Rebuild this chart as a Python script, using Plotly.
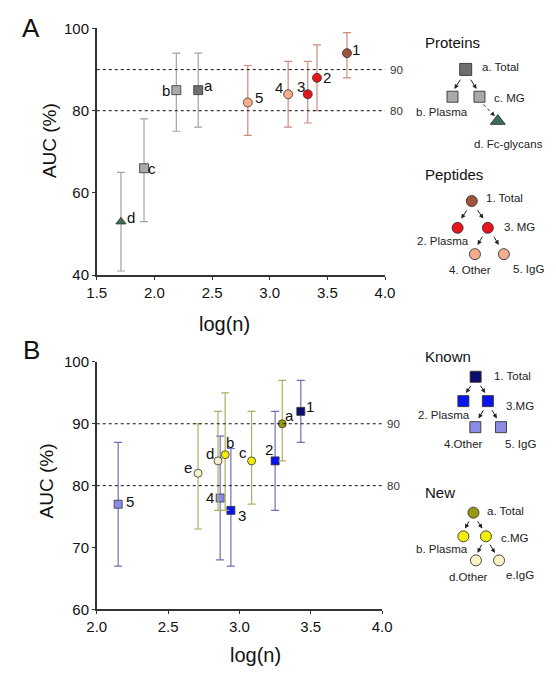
import plotly.graph_objects as go

# ---------------- DATA ----------------
# Panel A: proteins
prot_labels = ["a", "b", "c", "d"]
prot_logn = [2.38, 2.19, 1.91, 1.71]
prot_auc = [85, 85, 66, 53]
prot_lo = [76, 75, 53, 41]
prot_hi = [94, 94, 78, 65]

# Panel A: peptides
pep_labels = ["1", "2", "3", "4", "5"]
pep_logn = [3.67, 3.41, 3.33, 3.16, 2.81]
pep_auc = [94, 88, 84, 84, 82]
pep_lo = [88, 80, 77, 76, 74]
pep_hi = [99, 96, 92, 92, 91]

# Panel B: known
known_labels = ["1", "2", "3", "4", "5"]
known_logn = [3.43, 3.25, 2.94, 2.865, 2.15]
known_auc = [92, 84, 76, 78, 77]
known_lo = [87, 76, 67, 68, 67]
known_hi = [97, 92, 86, 88, 87]

# Panel B: new
new_labels = ["a", "b", "c", "d", "e"]
new_logn = [3.30, 2.90, 3.085, 2.85, 2.71]
new_auc = [90, 85, 84, 84, 82]
new_lo = [84, 76, 77, 76, 73]
new_hi = [97, 95, 92, 92, 90]

ref_lines = [80, 90]
xticks_A = [1.5, 2.0, 2.5, 3.0, 3.5, 4.0]
yticks_A = [40, 60, 80, 100]
xticks_B = [2.0, 2.5, 3.0, 3.5, 4.0]
yticks_B = [60, 70, 80, 90, 100]

# ---------------- STYLE ----------------
FONT = "Liberation Sans, Arial, sans-serif"
W, H = 556, 673

prot_colors = ["#6e6e6e", "#a9a9a9", "#a9a9a9", "#3c6e55"]
prot_symbols = ["square", "square", "square", "triangle-up"]
pep_colors = ["#a0523a", "#e8131b", "#e8131b", "#f6ad8c", "#f6ad8c"]
known_colors = ["#0c0c6e", "#0a14f0", "#0a14f0", "#8c8ce8", "#8c8ce8"]
new_colors = ["#9a9a12", "#f2ee0a", "#f2ee0a", "#f6f4c4", "#f6f4c4"]

# label offsets in pixels (dx right, dy down)
prot_off = [(10, -5), (-10, 0), (8, 0), (10, -4)]
pep_off = [(9, -4), (10, 0), (-7, -8), (-9, -7), (11, -5)]
known_off = [(9, -5), (-6, -11), (11, 5), (-10, -1), (12, -3)]
new_off = [(7, -8), (5, -12), (-9, -8), (-8, -7), (-10, -6)]


def err(vals, lo, hi):
    return dict(type="data", symmetric=False,
                array=[h - v for v, h in zip(vals, hi)],
                arrayminus=[v - l for v, l in zip(vals, lo)])


fig = go.Figure()
annotations = []
shapes = []


def add_group(x, y, lo, hi, labels, colors, symbols, offs, ecolor, size, xa, ya):
    e = err(y, lo, hi)
    e.update(color=ecolor, thickness=1.2, width=4)
    fig.add_trace(go.Scatter(
        x=x, y=y, mode="markers",
        marker=dict(color=colors, symbol=symbols, size=size,
                    line=dict(color="#333", width=0.8)),
        error_y=e, xaxis=xa, yaxis=ya, showlegend=False, cliponaxis=False))
    for xi, yi, lab, (dx, dy) in zip(x, y, labels, offs):
        annotations.append(dict(x=xi, y=yi, xref=xa, yref=ya, text=lab, showarrow=False,
                                xshift=dx, yshift=-dy, xanchor="center", yanchor="middle",
                                font=dict(family=FONT, size=15, color="#111")))


add_group(prot_logn, prot_auc, prot_lo, prot_hi, prot_labels, prot_colors,
          prot_symbols, prot_off, "#a3a3a3", 9, "x", "y")
add_group(pep_logn, pep_auc, pep_lo, pep_hi, pep_labels, pep_colors,
          "circle", pep_off, "#d08a7c", 9, "x", "y")
add_group(known_logn, known_auc, known_lo, known_hi, known_labels, known_colors,
          "square", known_off, "#6f6fb5", 8, "x2", "y2")
add_group(new_logn, new_auc, new_lo, new_hi, new_labels, new_colors,
          "circle", new_off, "#aeae62", 8, "x2", "y2")

# ---------------- legend schematics (overlay pixel axis) ----------------


def node(x, y, color, symbol, size):
    fig.add_trace(go.Scatter(
        x=[x], y=[y], mode="markers", xaxis="x3", yaxis="y3", showlegend=False,
        hoverinfo="skip", cliponaxis=False,
        marker=dict(color=color, symbol=symbol, size=size,
                    line=dict(color="#333", width=0.9))))


def txt(x, y, s, size=11.5, anchor="left", color="#222"):
    annotations.append(dict(x=x, y=y, xref="x3", yref="y3", text=s, showarrow=False,
                            xanchor=anchor, yanchor="middle",
                            font=dict(family=FONT, size=size, color=color)))


def arrow(x0, y0, x1, y1):
    annotations.append(dict(x=x1, y=y1, ax=x0, ay=y0, xref="x3", yref="y3",
                            axref="x3", ayref="y3", text="", showarrow=True,
                            arrowhead=2, arrowsize=0.9, arrowwidth=1, arrowcolor="#222"))


# Proteins
txt(428, 34, "Proteins", 15, color="#111")
node(472.7, 62, "#6e6e6e", "square", 12)
txt(488, 60, "a. Total")
node(459, 90, "#a9a9a9", "square", 11)
node(487, 90, "#a9a9a9", "square", 11)
txt(500, 91, "c. MG")
txt(448, 106, "b. Plasma", anchor="center")
node(506, 115, "#3c6e55", "triangle-up", 13)
txt(517, 138, "d. Fc-glycans", anchor="center")
arrow(468, 71, 461, 82)
arrow(477, 71, 484, 82)
shapes.append(dict(type="line", xref="x3", yref="y3", x0=491, y0=98, x1=501, y1=108,
                   line=dict(color="#222", width=1, dash="dot")))
arrow(500, 107, 503, 110)

# Peptides
txt(428, 170, "Peptides", 15, color="#111")
node(479, 197, "#a0523a", "circle", 11)
txt(492, 194, "1. Total")
node(464.3, 224.5, "#e8131b", "circle", 11)
node(495.7, 224.5, "#e8131b", "circle", 11)
txt(510, 224, "3. MG")
txt(449, 238, "2. Plasma", anchor="center")
node(482.3, 251.5, "#f6ad8c", "circle", 11)
node(512.3, 251.5, "#f6ad8c", "circle", 11)
txt(477, 268, "4. Other", anchor="center")
txt(520, 267, "5. IgG")
arrow(475, 205, 468, 215)
arrow(484, 205, 491, 215)
arrow(491, 232, 485, 242)
arrow(501, 232, 507, 242)

# Known
txt(428, 356, "Known", 15, color="#111")
node(483, 377.3, "#0c0c6e", "square", 11)
txt(500, 376, "1. Total")
node(470.3, 402.3, "#0a14f0", "square", 11)
node(495.7, 402.3, "#0a14f0", "square", 11)
txt(512, 407, "3.MG")
txt(450, 417, "2. Plasma", anchor="center")
node(482.7, 429, "#8c8ce8", "square", 11)
node(509.3, 429, "#8c8ce8", "square", 11)
txt(470, 446, "4.Other", anchor="center")
txt(511, 446, "5. IgG")
arrow(479, 385, 473, 394)
arrow(487, 385, 493, 394)
arrow(492, 410, 486, 420)
arrow(499, 410, 505, 420)

# New
txt(428, 496, "New", 15, color="#111")
node(480.7, 516.7, "#9a9a12", "circle", 11)
txt(493, 515, "a. Total")
node(470.3, 541, "#f2ee0a", "circle", 11)
node(493.7, 541, "#f2ee0a", "circle", 11)
txt(507, 543, "c.MG")
txt(448, 554, "b. Plasma", anchor="center")
node(483.3, 565.7, "#f6f4c4", "circle", 11)
node(507.3, 565.7, "#f6f4c4", "circle", 11)
txt(476, 583, "d.Other", anchor="center")
txt(512, 581, "e.IgG")
arrow(477, 524, 472, 533)
arrow(484, 524, 490, 533)
arrow(490, 548, 485, 558)
arrow(497, 548, 503, 558)

# ---------------- reference lines ----------------
for y in ref_lines:
    shapes.append(dict(type="line", xref="x", yref="y", x0=1.5, x1=4.0, y0=y, y1=y,
                       line=dict(color="#111", width=1, dash="dot")))
    shapes.append(dict(type="line", xref="x2", yref="y2", x0=2.0, x1=4.0, y0=y, y1=y,
                       line=dict(color="#111", width=1, dash="dot")))
    for xa, ya in (("x", "y"), ("x2", "y2")):
        annotations.append(dict(x=4.0, y=y, xref=xa, yref=ya, text=str(y), showarrow=False,
                                xanchor="left", xshift=3, yanchor="middle",
                                font=dict(family=FONT, size=11.5, color="#333")))

# panel letters and axis titles
for s, x, y in (("A", 22, 19), ("B", 22, 350)):
    annotations.append(dict(x=x, y=y, xref="x3", yref="y3", text=s, showarrow=False,
                            xanchor="center", yanchor="middle",
                            font=dict(family=FONT, size=26, color="#111")))
for x, y in ((222, 323), (255, 663)):
    annotations.append(dict(x=x, y=y, xref="x3", yref="y3", text="log(n)", showarrow=False,
                            xanchor="center", yanchor="middle",
                            font=dict(family=FONT, size=20, color="#111")))
for x, y in ((41, 135), (38, 484)):
    annotations.append(dict(x=x, y=y, xref="x3", yref="y3", text="AUC (%)", showarrow=False,
                            textangle=-90, xanchor="center", yanchor="middle",
                            font=dict(family=FONT, size=19, color="#111")))

axis_common = dict(showgrid=False, zeroline=False, showline=True, linecolor="#333",
                   linewidth=1.5, ticks="outside", ticklen=3, tickcolor="#333",
                   tickfont=dict(family=FONT, size=15, color="#111"))

fig.update_layout(
    width=W, height=H, margin=dict(l=0, r=0, t=0, b=0),
    paper_bgcolor="white", plot_bgcolor="rgba(0,0,0,0)",
    xaxis=dict(domain=[90 / W, 389 / W], range=[1.5, 4.0], tickvals=xticks_A,
               ticktext=[f"{v:.1f}" for v in xticks_A], anchor="y", **axis_common),
    yaxis=dict(domain=[1 - 273 / H, 1 - 20 / H], range=[40, 100], tickvals=yticks_A,
               anchor="x", **axis_common),
    xaxis2=dict(domain=[90 / W, 386 / W], range=[2.0, 4.0], tickvals=xticks_B,
                ticktext=[f"{v:.1f}" for v in xticks_B], anchor="y2", **axis_common),
    yaxis2=dict(domain=[1 - 616 / H, 1 - 362 / H], range=[60, 100], tickvals=yticks_B,
                anchor="x2", **axis_common),
    xaxis3=dict(domain=[0, 1], range=[0, W], visible=False, anchor="y3", fixedrange=True),
    yaxis3=dict(domain=[0, 1], range=[H, 0], visible=False, anchor="x3", fixedrange=True),
    shapes=shapes, annotations=annotations, showlegend=False,
)

fig.write_html("out.html", config={"displayModeBar": False},
               post_script="document.body.style.margin='0';"
                           "document.body.style.overflow='hidden';")
